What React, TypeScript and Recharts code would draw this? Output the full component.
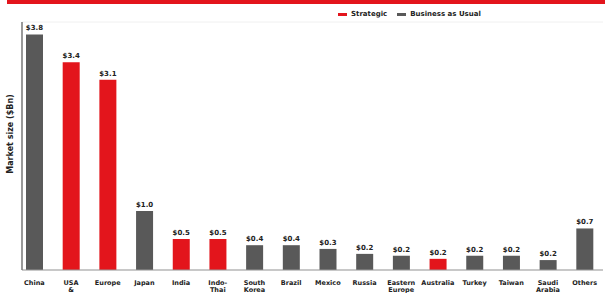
import React from 'react';
import { BarChart, Bar, XAxis, YAxis, CartesianGrid, LabelList, Cell } from 'recharts';

const categories = ['China', 'USA & Canada', 'Europe', 'Japan', 'India', 'Indo-Thai', 'South Korea', 'Brazil', 'Mexico', 'Russia', 'Eastern Europe', 'Australia', 'Turkey', 'Taiwan', 'Saudi Arabia', 'Others'];
const marketSize = [3.8, 3.35, 3.07, 0.95, 0.5, 0.5, 0.4, 0.4, 0.34, 0.26, 0.23, 0.18, 0.23, 0.23, 0.16, 0.67];
const valueLabels = ['$3.8', '$3.4', '$3.1', '$1.0', '$0.5', '$0.5', '$0.4', '$0.4', '$0.3', '$0.2', '$0.2', '$0.2', '$0.2', '$0.2', '$0.2', '$0.7'];
const strategic = [false, true, true, false, true, true, false, false, false, false, false, true, false, false, false, false];
const yTicks = [0, 0.5, 1, 1.5, 2, 2.5, 3, 3.5, 4];
const legendItems = [
  { name: 'Strategic', strategic: true },
  { name: 'Business as Usual', strategic: false },
];

const RED = '#e3151c';
const GRAY = '#595959';

const data = categories.map((name, i) => ({
  name,
  label: valueLabels[i],
  value: marketSize[i],
  strategic: strategic[i],
}));

const font = 'DejaVu Sans, sans-serif';

function WrapTick(props: any) {
  const { x, y, payload } = props;
  let lines: string[] = payload.value.split(' ');
  if (payload.value === 'Indo-Thai') lines = ['Indo-', 'Thai'];
  return (
    <text x={x} y={y} textAnchor="middle" fontFamily={font} fontSize={6.5} fontWeight="bold" fill="#222">
      {lines.map((l, i) => (
        <tspan key={i} x={x} dy={7}>{l}</tspan>
      ))}
    </text>
  );
}

function YLabel(props: any) {
  const { viewBox } = props;
  const cx = 10;
  const cy = viewBox.y + viewBox.height / 2 - 12;
  return (
    <text x={cx} y={cy} transform={`rotate(-90 ${cx} ${cy})`} textAnchor="middle" dominantBaseline="central" fontFamily={font} fontSize={8} fontWeight="bold" fill="#222">
      Market size ($Bn)
    </text>
  );
}

export default function App() {
  return (
    <div style={{ position: 'absolute', left: 0, top: 0, width: 605, height: 293, background: '#fff', overflow: 'hidden' }}>
      <div style={{ position: 'absolute', left: 7, top: 0, width: 598, height: 4, background: RED }} />
      <div style={{ position: 'absolute', left: 338, top: 10, display: 'flex', gap: 10, fontFamily: font, fontSize: 7, fontWeight: 'bold', color: '#222', lineHeight: '9px', zIndex: 2 }}>
        {legendItems.map((it) => (
          <div key={it.name} style={{ display: 'flex', alignItems: 'center' }}>
            <span style={{ display: 'inline-block', width: 9, height: 2.5, background: it.strategic ? RED : GRAY, marginRight: 4 }} />
            {it.name}
          </div>
        ))}
      </div>
      <BarChart width={605} height={293} data={data} margin={{ top: 22, right: 2, bottom: 0, left: 0 }} barSize={17}>
        <CartesianGrid vertical={false} stroke="#f0f0f0" />
        <XAxis
          dataKey="name"
          interval={0}
          height={23}
          padding={{ left: -6, right: 0 }}
          axisLine={{ stroke: '#999' }}
          tickLine={false}
          tick={<WrapTick />}
        />
        <YAxis
          width={22}
          domain={[0, 4]}
          ticks={yTicks}
          tick={false}
          tickLine={false}
          axisLine={{ stroke: '#777', strokeWidth: 1.5 }}
          label={<YLabel />}
        />
        <Bar dataKey="value" isAnimationActive={false}>
          {data.map((d) => (
            <Cell key={d.name} fill={d.strategic ? RED : GRAY} />
          ))}
          <LabelList dataKey="label" position="top" offset={4} style={{ fontFamily: font, fontSize: 7, fontWeight: 'bold', fill: '#222' }} />
        </Bar>
      </BarChart>
    </div>
  );
}
